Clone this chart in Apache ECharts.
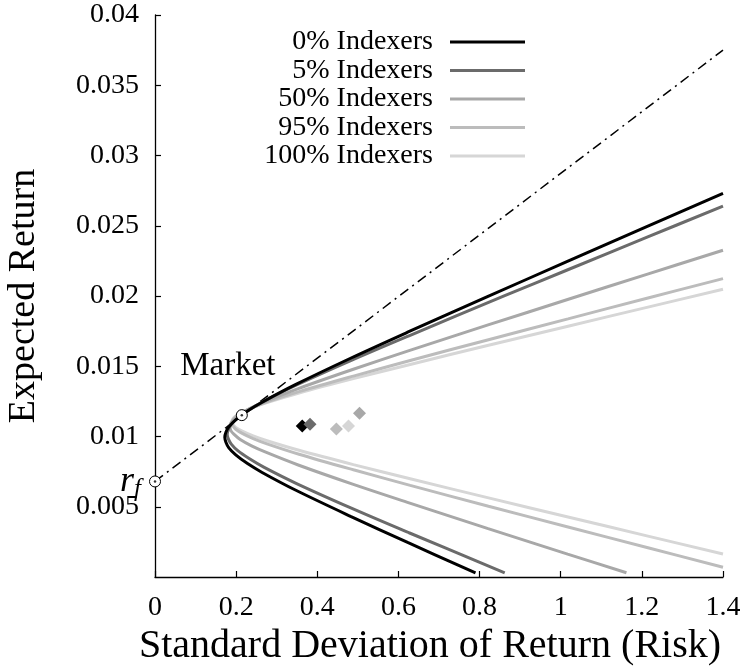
<!DOCTYPE html>
<html><head><meta charset="utf-8">
<script src="https://cdn.jsdelivr.net/npm/echarts@6/dist/echarts.min.js"></script>
<style>html,body{margin:0;padding:0;background:#fff}#c{width:740px;height:668px}</style>
</head><body><div id="c"></div>
<script>
// ---- data ----
const seriesNames = ['0% Indexers', '5% Indexers', '50% Indexers', '95% Indexers', '100% Indexers'];

// frontiers: [std dev, expected return], from lower branch end to upper branch end
const frontier0 = [[0.79,0.0003],[0.624,0.00244],[0.482,0.00432],[0.346,0.00619],[0.264,0.00744],[0.228,0.00807],[0.199,0.00869],[0.182,0.00919],[0.175,0.00957],[0.172,0.00994],[0.175,0.01032],[0.182,0.01069],[0.199,0.01119],[0.228,0.01182],[0.264,0.01244],[0.346,0.01369],[0.482,0.01557],[0.624,0.01744],[0.818,0.01994],[1.015,0.02244],[1.212,0.02494],[1.4,0.02731]];
const frontier5 = [[0.862,0.0003],[0.626,0.00315],[0.484,0.0049],[0.349,0.00665],[0.268,0.00782],[0.233,0.00841],[0.204,0.00899],[0.188,0.00946],[0.181,0.00981],[0.178,0.01016],[0.181,0.01051],[0.188,0.01086],[0.204,0.01133],[0.233,0.01191],[0.268,0.0125],[0.349,0.01367],[0.484,0.01542],[0.626,0.01717],[0.862,0.02002],[1.016,0.02185],[1.213,0.02419],[1.4,0.02639]];
const frontier50 = [[1.162,0.0003],[1.017,0.00163],[0.821,0.00344],[0.628,0.00526],[0.487,0.00661],[0.353,0.00797],[0.273,0.00888],[0.238,0.00933],[0.210,0.00978],[0.195,0.01015],[0.187,0.01042],[0.185,0.01069],[0.187,0.01096],[0.195,0.01123],[0.210,0.0116],[0.238,0.01205],[0.273,0.0125],[0.353,0.01341],[0.487,0.01477],[0.628,0.01613],[0.821,0.01794],[1.017,0.01975],[1.214,0.02156],[1.4,0.02326]];
const frontier95 = [[1.4,0.00069],[1.215,0.00208],[1.018,0.00356],[0.822,0.00504],[0.629,0.00652],[0.489,0.00763],[0.355,0.00874],[0.276,0.00948],[0.242,0.00985],[0.215,0.01022],[0.199,0.01052],[0.192,0.01074],[0.19,0.01097],[0.192,0.01119],[0.199,0.01141],[0.215,0.01171],[0.242,0.01208],[0.276,0.01245],[0.355,0.01319],[0.489,0.0143],[0.629,0.01541],[0.822,0.01689],[1.018,0.01837],[1.215,0.01986],[1.4,0.02124]];
const frontier100 = [[1.4,0.00164],[1.215,0.00291],[1.018,0.00427],[0.822,0.00563],[0.629,0.00699],[0.489,0.008],[0.355,0.00902],[0.276,0.0097],[0.242,0.01004],[0.215,0.01038],[0.199,0.01065],[0.192,0.01086],[0.19,0.01106],[0.192,0.01126],[0.199,0.01147],[0.215,0.01174],[0.242,0.01208],[0.276,0.01242],[0.355,0.0131],[0.489,0.01412],[0.629,0.01513],[0.822,0.01649],[1.018,0.01785],[1.215,0.01921],[1.4,0.02048]];

// optimal portfolios (diamonds), one per series in seriesNames order
const optimalPoints = [[0.363,0.01074],[0.382,0.01088],[0.504,0.01166],[0.447,0.01053],[0.477,0.01074]];

const riskFree = [0, 0.0068];
const marketPoint = [0.214, 0.01152];
const cmlEnd = [1.4, 0.0375];

const xTickMin = 0, xTickMax = 1.4, xTickStep = 0.2;
const yTickMin = 0, yTickMax = 0.04, yTickStep = 0.005;

// ---- styles ----
const colors = ['#000000', '#6b6b6b', '#a8a8a8', '#bcbcbc', '#d6d6d6'];
const FONT = "'Liberation Serif', 'Times New Roman', serif";
const frontiers = [frontier0, frontier5, frontier50, frontier95, frontier100];

const chart = echarts.init(document.getElementById('c'), null, {renderer: 'canvas'});

const series = [];
series.push({
  type: 'line', name: 'CML', data: [riskFree, cmlEnd], showSymbol: false, silent: true,
  lineStyle: {color: '#000', width: 1.5, type: [10, 5, 2, 5]}, z: 1
});
for (let i = frontiers.length - 1; i >= 0; i--) {
  series.push({
    type: 'line', name: seriesNames[i], data: frontiers[i], showSymbol: false, smooth: 0.35,
    lineStyle: {color: colors[i], width: 3}, itemStyle: {color: colors[i]}, z: 2 + (frontiers.length - i)
  });
}
series.push({
  type: 'scatter', name: 'optima', symbol: 'diamond', symbolSize: 13, z: 10,
  data: optimalPoints.map((p, i) => ({value: p, itemStyle: {color: colors[i], opacity: 1}}))
});
series.push({
  type: 'scatter', name: 'market', data: [marketPoint], symbol: 'circle', symbolSize: 11, z: 11,
  itemStyle: {color: '#fff', borderColor: '#000', borderWidth: 1, opacity: 1},
  label: {show: true, formatter: 'Market', position: 'top', distance: 26, offset: [-14, 0],
          fontFamily: FONT, fontSize: 33, color: '#000'}
});
series.push({
  type: 'scatter', name: 'riskfree', data: [riskFree], symbol: 'circle', symbolSize: 11, z: 11,
  itemStyle: {color: '#fff', borderColor: '#000', borderWidth: 1, opacity: 1},
  label: {show: true, position: 'left', distance: 8, formatter: '{r|r}{f|f}', color: '#000',
          rich: {
            r: {fontFamily: FONT, fontStyle: 'italic', fontSize: 36, color: '#000'},
            f: {fontFamily: FONT, fontStyle: 'italic', fontSize: 25, color: '#000', padding: [16, 0, 0, 0]}
          }}
});
series.push({
  type: 'scatter', name: 'dots', data: [marketPoint, riskFree], symbol: 'circle', symbolSize: 2.5, z: 12,
  itemStyle: {color: '#000'}, silent: true
});

chart.setOption({
  animation: false,
  backgroundColor: '#fff',
  grid: {left: 155, right: 17, top: 15, bottom: 91, containLabel: false, outerBoundsMode: 'none'},
  xAxis: {
    type: 'value', min: xTickMin, max: xTickMax, interval: xTickStep,
    axisLine: {lineStyle: {color: '#000', width: 1.3}},
    axisTick: {inside: true, length: 6, lineStyle: {color: '#000', width: 1.2}},
    splitLine: {show: false},
    axisLabel: {fontFamily: FONT, fontSize: 28, color: '#000', margin: 17},
    name: 'Standard Deviation of Return (Risk)', nameLocation: 'middle', nameGap: 49,
    nameTextStyle: {fontFamily: FONT, fontSize: 40, color: '#000', padding: [0, 18, 0, 0]}
  },
  yAxis: {
    type: 'value', min: yTickMin, max: yTickMax, interval: yTickStep,
    axisLine: {lineStyle: {color: '#000', width: 1.3}},
    axisTick: {inside: true, length: 6, lineStyle: {color: '#000', width: 1.2}},
    splitLine: {show: false},
    axisLabel: {fontFamily: FONT, fontSize: 28, color: '#000', margin: 16, showMinLabel: false},
    name: 'Expected Return', nameLocation: 'middle', nameGap: 112,
    nameTextStyle: {fontFamily: FONT, fontSize: 38, color: '#000'}
  },
  legend: {
    data: seriesNames, orient: 'vertical', left: 258, top: 28, align: 'right',
    icon: 'rect', itemWidth: 75, itemHeight: 3, itemGap: 0.5, padding: 0, selectedMode: false,
    formatter: n => '{a|' + n + '}',
    textStyle: {rich: {a: {fontFamily: FONT, fontSize: 28, color: '#000', width: 175, align: 'right',
                            padding: [0, 12, 0, 0], lineHeight: 28}}}
  },
  series: series
});
</script></body></html>
